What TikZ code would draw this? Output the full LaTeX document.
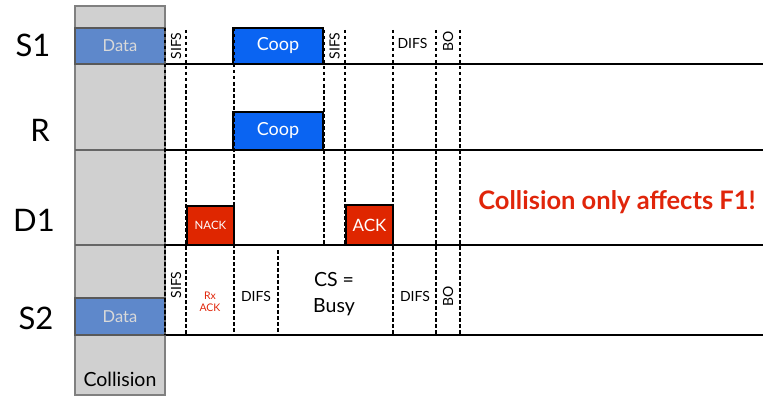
\documentclass[tikz,border=0pt]{standalone}
\usepackage{fontspec}
\setmainfont{Lato}
\definecolor{coopblue}{HTML}{0A64F2}
\definecolor{ackred}{HTML}{DF2600}
\definecolor{datablue}{HTML}{5E88CB}
\definecolor{colgray}{HTML}{D0D0D0}
\definecolor{txtred}{HTML}{E0250A}
\begin{document}
\begin{tikzpicture}[x=1pt,y=-1pt,
  timeline/.style={line width=2pt},
  inline/.style={line width=2pt, draw=black!60},
  vdash/.style={line width=2.6pt, dash pattern=on 3.5pt off 2.5pt},
  pkt/.style={draw=black, line width=1.5pt, inner sep=0pt, text=white},
  datapkt/.style={draw=black!65, line width=1.5pt, fill=datablue, inner sep=0pt, text=black!15, font=\fontsize{16.5}{18}\selectfont},
  rowlabel/.style={font=\fontsize{31}{33}\selectfont},
  small/.style={font=\fontsize{14}{15}\selectfont, inner sep=0pt},
]
\useasboundingbox (0,0) rectangle (763,396);
% collision column
\node[draw=black!50, line width=1.5pt, fill=colgray, minimum width=90pt, minimum height=389pt, inner sep=0pt] (col) at (120,200.5) {};
% timelines
\foreach \n/\y in {s1/64, r/150, d1/245, s2/335} {
  \coordinate (\n a) at (75,\y);
  \coordinate (\n b) at (165,\y);
  \coordinate (\n c) at (763,\y);
  \draw[inline] (\n a) -- (\n b);
  \draw[timeline] (\n b) -- (\n c);
}
% packets
\node[datapkt, minimum width=90pt, minimum height=36pt] (data1) at (120,46) {Data};
\node[datapkt, minimum width=90pt, minimum height=37pt] (data2) at (120,316.5) {Data};
\node[pkt, fill=coopblue, minimum width=90pt, minimum height=36pt, font=\fontsize{18}{20}\selectfont] (coop1) at (278,46) {Coop};
\node[pkt, fill=coopblue, minimum width=90pt, minimum height=38pt, font=\fontsize{18}{20}\selectfont] (coop2) at (278,131) {Coop};
\node[pkt, fill=ackred, minimum width=47pt, minimum height=39pt, font=\fontsize{11.5}{12}\selectfont] (nack) at (210.5,225.5) {NACK};
\node[pkt, fill=ackred, minimum width=47pt, minimum height=40pt, font=\fontsize{17}{18}\selectfont] (ack) at (369.5,225) {ACK};
% dashed verticals
\foreach \x/\a/\b in {165/28/335, 186/30/335, 234/28/335, 278/250/335, 324/30/245, 345/30/245, 393/30/335, 436/30/335, 460/30/335} {
  \draw[vdash] (\x,\a) -- (\x,\b);
}
% row labels
\node[rowlabel] (ls1) at (33,45) {S1};
\node[rowlabel] (lr) at (40,130) {R};
\node[rowlabel] (ld1) at (34,220) {D1};
\node[rowlabel] (ls2) at (36,318) {S2};
\node[font=\fontsize{19.5}{21}\selectfont, inner sep=0pt] (coll) at (120,379) {Collision};
% interval labels, top
\node[small, rotate=90] (sifs1) at (176,46) {SIFS};
\node[small, rotate=90] (sifs2) at (334.5,46) {SIFS};
\node[small] (difs1) at (412.5,43) {DIFS};
\node[small, rotate=90] (bo1) at (448,41) {BO};
% interval labels, bottom
\node[small, rotate=90] (sifs3) at (176,285) {SIFS};
\node[font=\fontsize{10.5}{12}\selectfont, text=txtred, align=center, inner sep=0pt] (rxack) at (210,302) {Rx\\ACK};
\node[small] (difs2) at (256,296) {DIFS};
\node[font=\fontsize{19.5}{26}\selectfont, align=center, inner sep=0pt] (busy) at (334,294) {CS =\\Busy};
\node[small] (difs3) at (415,296) {DIFS};
\node[small, rotate=90] (bo2) at (448,296) {BO};
% note
\node[font=\bfseries\fontsize{25.5}{27}\selectfont, text=txtred, inner sep=0pt] (note) at (617,202) {Collision only affects F1!};
\end{tikzpicture}
\end{document}
